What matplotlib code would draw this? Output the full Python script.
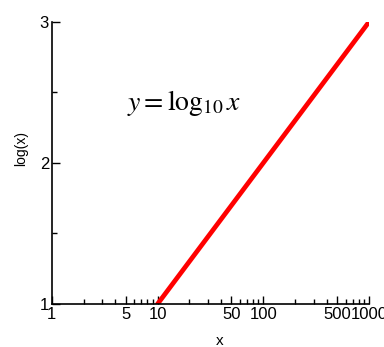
import matplotlib
matplotlib.use("Agg")
import matplotlib.pyplot as plt
from matplotlib.ticker import FixedLocator, FixedFormatter

x_vals = [10, 1000]
y_vals = [1, 3]
x_major = [1, 5, 10, 50, 100, 500, 1000]
x_major_labels = ["1", "5", "10", "50", "100", "500", "1000"]
x_minor = [2, 3, 4, 6, 7, 8, 9, 20, 30, 40, 60, 70, 80, 90, 200, 300, 400, 600, 700, 800, 900]
y_major = [1, 2, 3]
y_minor = [1.5, 2.5]

plt.rcParams["font.family"] = ["Liberation Sans", "DejaVu Sans"]
plt.rcParams["mathtext.fontset"] = "stix"

fig = plt.figure(figsize=(3.84, 3.47), dpi=100)
ax = fig.add_axes([0.135, 0.124, 0.826, 0.813])

ax.plot(x_vals, y_vals, color="red", linewidth=3.4, solid_capstyle="round")
ax.set_xscale("log")
ax.set_xlim(1, 1000)
ax.set_ylim(1, 3)

ax.xaxis.set_major_locator(FixedLocator(x_major))
ax.xaxis.set_major_formatter(FixedFormatter(x_major_labels))
ax.xaxis.set_minor_locator(FixedLocator(x_minor))
ax.xaxis.set_minor_formatter(FixedFormatter([""] * len(x_minor)))
ax.yaxis.set_major_locator(FixedLocator(y_major))
ax.yaxis.set_minor_locator(FixedLocator(y_minor))

ax.spines["top"].set_visible(False)
ax.spines["right"].set_visible(False)
for s in ("left", "bottom"):
    ax.spines[s].set_linewidth(1.2)
ax.tick_params(axis="x", which="major", direction="in", length=6, width=1, labelsize=12, pad=2)
ax.tick_params(axis="x", which="minor", direction="in", length=3.5, width=1)
ax.tick_params(axis="y", which="major", direction="in", length=6, width=1, labelsize=12, pad=2)
ax.tick_params(axis="y", which="minor", direction="in", length=3.5, width=1)

ax.set_xlabel("x", fontsize=11)
ax.set_ylabel("log(x)", fontsize=10)
ax.xaxis.set_label_coords(0.53, -0.105)
ax.yaxis.set_label_coords(-0.075, 0.55)

ax.text(0.416, 0.713, r"$y = \log_{10} x$", transform=ax.transAxes,
        fontsize=20, ha="center", va="center")

fig.savefig("out.png", dpi=100)
